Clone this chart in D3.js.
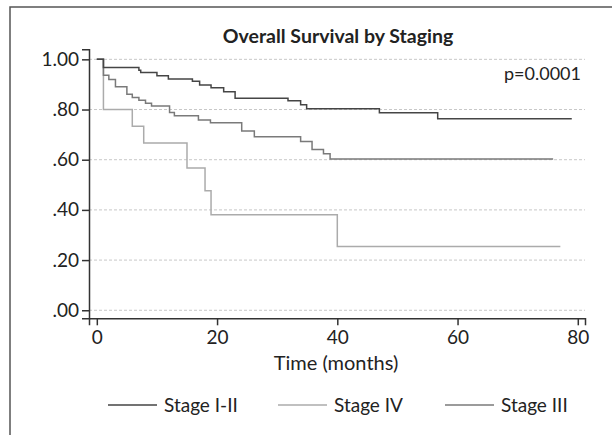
<!DOCTYPE html>
<html>
<head>
<meta charset="utf-8">
<script src="https://cdn.jsdelivr.net/npm/d3@7"></script>
<style>
  body { margin: 0; background: #fff; }
  text { font-family: Lato, "Open Sans", sans-serif; fill: #222; }
  .axis path, .axis line { stroke: #333; stroke-width: 1.5; }
  .grid line { stroke: #c8c8c8; stroke-width: 1; stroke-dasharray: 3,2; }
</style>
</head>
<body>
<svg id="chart"></svg>
<script>
// Kaplan-Meier steps (time in months, survival proportion)
const stage12Times = [0, 1.1, 7.0, 7.3, 10.0, 11.9, 15.9, 17.1, 19.0, 21.1, 23.0, 31.8, 33.9, 34.9, 47.0, 56.7];
const stage12Surv  = [1, 0.967, 0.957, 0.948, 0.935, 0.922, 0.913, 0.898, 0.887, 0.871, 0.845, 0.835, 0.819, 0.803, 0.787, 0.763];
const stage12End = 79.0;

const stage3Times = [0, 1.1, 2.0, 3.1, 5.0, 5.9, 7.0, 8.1, 9.1, 12.1, 12.9, 16.9, 18.9, 24.1, 26.2, 33.9, 35.8, 37.7, 38.8];
const stage3Surv  = [1, 0.937, 0.920, 0.891, 0.861, 0.848, 0.837, 0.825, 0.814, 0.788, 0.775, 0.758, 0.747, 0.714, 0.692, 0.673, 0.641, 0.624, 0.603];
const stage3End = 75.9;

const stage4Times = [0, 1.1, 5.9, 7.8, 15.0, 18.0, 19.0, 40.0];
const stage4Surv  = [1, 0.80, 0.733, 0.667, 0.567, 0.476, 0.381, 0.254];
const stage4End = 77.1;

const xTicks = [0, 20, 40, 60, 80];
const yTicks = [0, 0.2, 0.4, 0.6, 0.8, 1.0];

// legend order as in the picture
const legendNames = ['Stage I-II', 'Stage IV', 'Stage III'];
const legendColors = ['#454545', '#ababab', '#7a7a7a'];

const width = 612, height = 435;

const svg = d3.select('#chart')
    .attr('width', width)
    .attr('height', height);

// outer frame (runs off the right and bottom edge)
svg.append('rect')
    .attr('x', 10).attr('y', 7)
    .attr('width', 620).attr('height', 440)
    .attr('fill', 'none')
    .attr('stroke', '#555')
    .attr('stroke-width', 1.5);

// scales: domains padded a little past the data like the original axes
const xScale = d3.scaleLinear().domain([-1.3, 81.2]).range([89, 585]);
const yScale = d3.scaleLinear().domain([-0.032, 1.04]).range([318.3, 49.3]);

// dashed gridlines
svg.append('g')
    .attr('class', 'grid')
  .selectAll('line')
    .data(yTicks)
  .join('line')
    .attr('x1', xScale.range()[0])
    .attr('x2', xScale.range()[1])
    .attr('y1', d => yScale(d))
    .attr('y2', d => yScale(d));

const fmtY = d => d3.format('.2f')(d).replace(/^0/, '');

const yAxis = d3.axisLeft(yScale)
    .tickValues(yTicks)
    .tickFormat(fmtY)
    .tickSizeOuter(0)
    .tickSize(7)
    .tickPadding(3);

const xAxis = d3.axisBottom(xScale)
    .tickValues(xTicks)
    .tickFormat(d3.format('d'))
    .tickSizeOuter(0)
    .tickSize(7)
    .tickPadding(5);

svg.append('g')
    .attr('class', 'axis y-axis')
    .attr('transform', `translate(${xScale.range()[0]},0)`)
    .call(yAxis)
    .selectAll('text')
      .style('font-size', '19px');

svg.append('g')
    .attr('class', 'axis x-axis')
    .attr('transform', `translate(0,${yScale.range()[0]})`)
    .call(xAxis)
    .selectAll('text')
      .style('font-size', '19px');

// survival curves
const line = d3.line()
    .x(d => xScale(d[0]))
    .y(d => yScale(d[1]))
    .curve(d3.curveStepAfter);

function steps(times, surv, end) {
  let pts = times.map((t, i) => [t, surv[i]]);
  pts.push([end, surv[surv.length - 1]]);
  return pts;
}

const curves = [
  {name: 'Stage IV', pts: steps(stage4Times, stage4Surv, stage4End), color: legendColors[1]},
  {name: 'Stage III', pts: steps(stage3Times, stage3Surv, stage3End), color: legendColors[2]},
  {name: 'Stage I-II', pts: steps(stage12Times, stage12Surv, stage12End), color: legendColors[0]}
];

svg.append('g')
  .selectAll('path')
    .data(curves)
  .join('path')
    .attr('d', d => line(d.pts))
    .attr('fill', 'none')
    .attr('stroke', d => d.color)
    .attr('stroke-width', 1.5);

// title and labels
svg.append('text')
    .attr('x', 338).attr('y', 43)
    .attr('text-anchor', 'middle')
    .style('font-size', '19.5px')
    .style('font-weight', 'bold')
    .text('Overall Survival by Staging');

svg.append('text')
    .attr('x', 581).attr('y', 80)
    .attr('text-anchor', 'end')
    .style('font-size', '18px')
    .text('p=0.0001');

svg.append('text')
    .attr('x', 336).attr('y', 370)
    .attr('text-anchor', 'middle')
    .style('font-size', '20px')
    .text('Time (months)');

// legend
const legendX = [108, 278, 445];
const legend = svg.append('g');

legend.selectAll('line')
    .data(legendNames)
  .join('line')
    .attr('x1', (d, i) => legendX[i])
    .attr('x2', (d, i) => legendX[i] + 49)
    .attr('y1', 405).attr('y2', 405)
    .attr('stroke', (d, i) => legendColors[i])
    .attr('stroke-width', 1.5);

legend.selectAll('text')
    .data(legendNames)
  .join('text')
    .attr('x', (d, i) => legendX[i] + 56)
    .attr('y', 411.5)
    .style('font-size', '19px')
    .text(d => d);
</script>
</body>
</html>
